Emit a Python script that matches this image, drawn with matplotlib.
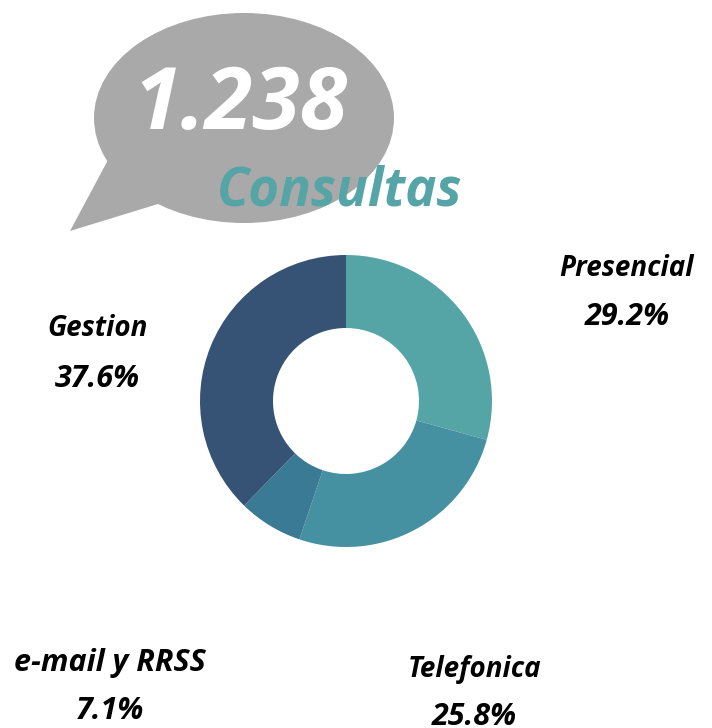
import matplotlib
matplotlib.use("Agg")
import matplotlib.pyplot as plt
from matplotlib.patches import Ellipse, Polygon

labels = ["Presencial", "Telefonica", "e-mail y RRSS", "Gestion"]
values = [29.2, 25.8, 7.1, 37.6]
colors = ["#55a5a7", "#4590a1", "#3b7a94", "#365376"]
pct_text = ["29.2%", "25.8%", "7.1%", "37.6%"]
label_pos = [(627, 268), (475, 669), (110, 663), (98, 328)]
label_size = [20, 20, 22, 20]
pct_pos = [(627, 317), (474, 717), (110, 711), (97, 379)]

W, H = 712, 728
fig = plt.figure(figsize=(W / 100, H / 100), dpi=100)
bg = fig.add_axes([0, 0, 1, 1])
bg.set_xlim(0, W)
bg.set_ylim(H, 0)
bg.axis("off")

# speech bubble
bg.add_patch(Ellipse((244, 118), 300, 210, color="#a9a9a9", lw=0))
bg.add_patch(Polygon([(108, 160), (70, 231), (158, 204), (200, 170)], color="#a9a9a9", lw=0))
bg.text(240, 107, "1.238", fontsize=62, color="white", family="Open Sans", weight="bold", style="italic", ha="center", va="center")
bg.text(340, 192, "Consultas", fontsize=38, color="#55a5a7", family="Open Sans", weight="bold", style="italic", ha="center", va="center")

for name, pct, lp, pp, size in zip(labels, pct_text, label_pos, pct_pos, label_size):
    bg.text(lp[0], lp[1], name, fontsize=size, family="Open Sans", weight="bold", style="italic", ha="center", va="center", color="black")
    # 25.8% runs off the bottom edge in the original too
    bg.text(pp[0], pp[1], pct, fontsize=22, family="Open Sans", weight="bold", style="italic", ha="center", va="center", color="black")

ax = fig.add_axes([(346 - 146) / W, 1 - (401 + 146) / H, 292 / W, 292 / H])
ax.pie(values, colors=colors, startangle=90, counterclock=False, radius=1,
       wedgeprops={"width": 0.5, "linewidth": 0})
ax.set_xlim(-1, 1)
ax.set_ylim(-1, 1)

fig.savefig("out.png", dpi=100)
